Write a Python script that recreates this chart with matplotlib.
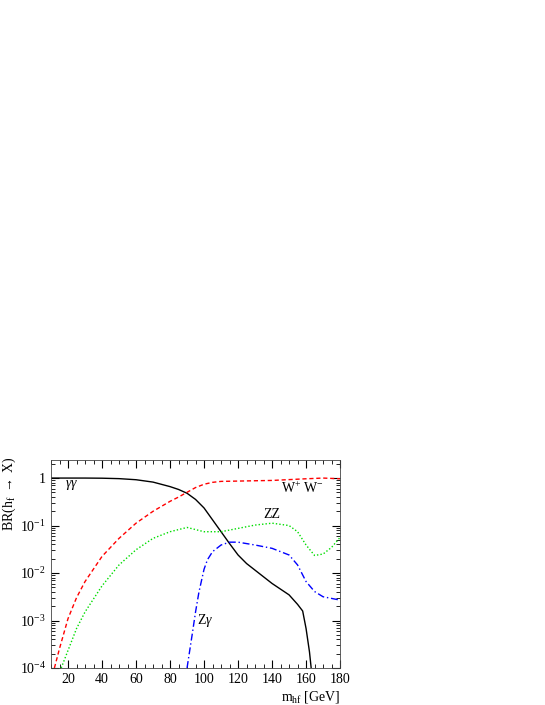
import matplotlib
matplotlib.use("Agg")
import matplotlib.pyplot as plt
import numpy as np
from matplotlib.ticker import FixedLocator, MultipleLocator

plt.rcParams['font.family'] = ['Liberation Serif', 'DejaVu Serif']
plt.rcParams['mathtext.fontset'] = 'custom'
plt.rcParams['mathtext.rm'] = 'Liberation Serif'
plt.rcParams['mathtext.it'] = 'Liberation Serif:italic'

gg_m = [10, 30, 40, 50, 60, 70, 80, 85, 90, 95, 100, 105, 110, 115, 120, 125, 130, 135, 140, 145, 150, 155, 158, 160, 162, 163]
gg_lg = [0, 0, -0.003, -0.012, -0.035, -0.085, -0.18, -0.24, -0.32, -0.45, -0.63, -0.88, -1.13, -1.38, -1.62, -1.80, -1.94, -2.08, -2.22, -2.34, -2.46, -2.66, -2.80, -3.17, -3.66, -4.0]
ww_m = [12, 15, 20, 25, 30, 40, 50, 60, 70, 80, 85, 90, 95, 100, 105, 110, 140, 160, 170, 180]
ww_lg = [-4.0, -3.59, -2.96, -2.52, -2.18, -1.65, -1.27, -0.95, -0.70, -0.49, -0.40, -0.30, -0.20, -0.13, -0.09, -0.07, -0.05, -0.015, 0.0, -0.015]
zz_m = [16, 20, 25, 30, 40, 50, 60, 70, 80, 90, 100, 110, 120, 130, 140, 150, 155, 160, 165, 170, 175, 180]
zz_lg = [-4.0, -3.63, -3.17, -2.82, -2.27, -1.83, -1.51, -1.27, -1.13, -1.04, -1.13, -1.13, -1.06, -0.99, -0.95, -1.0, -1.13, -1.41, -1.63, -1.6, -1.46, -1.25]
zg_m = [90, 93, 95, 97, 100, 102, 105, 110, 115, 120, 130, 140, 150, 155, 160, 165, 170, 180]
zg_lg = [-4.0, -3.3, -2.82, -2.4, -1.92, -1.72, -1.55, -1.41, -1.35, -1.35, -1.41, -1.48, -1.62, -1.83, -2.18, -2.39, -2.5, -2.57]

fig = plt.figure(figsize=(5.45, 7.05), dpi=100)
ax = fig.add_axes([0.0936, 0.0525, 0.5304, 0.295])
ax.plot(gg_m, 10**np.array(gg_lg), color='black', lw=1.0)
ax.plot(ww_m, 10**np.array(ww_lg), color='red', lw=1.0, ls=(0, (3, 2)))
ax.plot(zz_m, 10**np.array(zz_lg), color='#00dd00', lw=1.0, ls=(0, (1, 1.5)))
ax.plot(zg_m, 10**np.array(zg_lg), color='blue', lw=1.0, ls=(0, (5, 2, 1, 2)))
ax.set_yscale('log')
ax.set_xlim(10, 180)
ax.set_ylim(1e-4, 2.4)
ax.xaxis.set_minor_locator(MultipleLocator(5))
ax.set_xticks([20, 40, 60, 80, 100, 120, 140, 160, 180])
ax.yaxis.set_major_locator(FixedLocator([1e-4, 1e-3, 1e-2, 1e-1, 1]))
ax.set_yticklabels([r'$\mathregular{10^{-4}}$', r'$\mathregular{10^{-3}}$', r'$\mathregular{10^{-2}}$',
                    r'$\mathregular{10^{-1}}$', '1'])
ax.tick_params(which='both', direction='in', top=True, right=True, labelsize=10)
ax.tick_params(which='major', length=6)
ax.tick_params(which='minor', length=3)
for s in ax.spines.values():
    s.set_linewidth(0.6)
    s.set_color('#444444')
ax.set_ylabel(r'BR(h$_\mathregular{f}$ $\rightarrow$ X)', fontsize=10, labelpad=2)
ax.yaxis.set_label_coords(-0.115, 0.84)
ax.text(1.0, -0.1, r'm$_\mathregular{hf}$ [GeV]', transform=ax.transAxes, ha='right', va='top', fontsize=10)
ax.text(18, 0.72, r'$\gamma\gamma$', fontsize=10, va='center')
ax.text(145, 0.62, r'W$^\mathregular{+}$ W$^\mathregular{-}$', fontsize=10, va='center')
ax.text(135, 0.17, 'ZZ', fontsize=10, va='center')
ax.text(96, 1.0e-3, r'Z$\gamma$', fontsize=10, va='center')
fig.savefig('out.png', dpi=100)
